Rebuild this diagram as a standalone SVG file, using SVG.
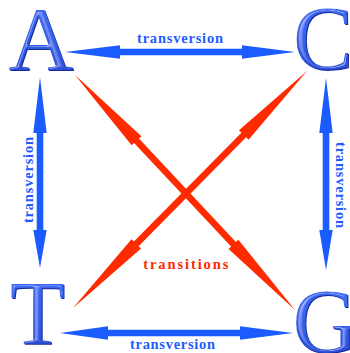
<svg xmlns="http://www.w3.org/2000/svg" width="350" height="353" viewBox="0 0 350 353">
  <style>
    .blue { fill: #1a5cff; }
    .red { fill: #ff2a00; }
    .lbl { font-family: "Liberation Serif", "Times New Roman", serif; font-weight: bold; font-size: 14.5px; }
    .lblb { fill: #1f5cff; }
    .lblr { fill: #ff2a00; }
    .base { font-family: "Liberation Serif", "Times New Roman", serif; font-size: 90px; text-anchor: middle; }
    .shadow { fill: #16289a; }
    .face { fill: url(#letterGrad); filter: url(#bevel); }
  </style>
  <defs>
    <linearGradient id="letterGrad" x1="0" y1="0" x2="0" y2="1">
      <stop offset="0" stop-color="#4070f6"/>
      <stop offset="0.5" stop-color="#325fe6"/>
      <stop offset="1" stop-color="#2447cc"/>
    </linearGradient>
    <filter id="bevel" x="-10%" y="-10%" width="120%" height="120%">
      <feGaussianBlur in="SourceAlpha" stdDeviation="1.4" result="blur"/>
      <feSpecularLighting in="blur" surfaceScale="3" specularConstant="0.55" specularExponent="16" lighting-color="#ffffff" result="spec">
        <feDistantLight azimuth="225" elevation="50"/>
      </feSpecularLighting>
      <feComposite in="spec" in2="SourceAlpha" operator="in" result="specIn"/>
      <feComposite in="SourceGraphic" in2="specIn" operator="arithmetic" k1="0" k2="1" k3="0.6" k4="0"/>
    </filter>
  </defs>

  <g id="connectors">
    <!-- transversions (blue) -->
    <polygon class="blue" points="65,52 120,45.3 120,48.7 242,48.7 242,45.3 295,52 242,58.7 242,55.3 120,55.3 120,58.7"/>
    <polygon class="blue" points="60,333 108,326.3 108,329.7 240,329.7 240,326.3 293,333 240,339.7 240,336.3 108,336.3 108,339.7"/>
    <polygon class="blue" points="40,77 33.3,133 36.7,133 36.7,230 33.3,230 40,268 46.7,230 43.3,230 43.3,133 46.7,133"/>
    <polygon class="blue" points="326,78 319.3,133 322.7,133 322.7,230 319.3,230 326,270 332.7,230 329.3,230 329.3,133 332.7,133"/>
    <!-- transitions (red) -->
    <path class="red" transform="translate(75,75) rotate(46.89)" d="M0,0 L90,-6.7 L90,-3.3 L231.9,-3.3 L231.9,-6.7 L321.9,0 L231.9,6.7 L231.9,3.3 L90,3.3 L90,6.7 Z"/>
    <path class="red" transform="translate(307,71) rotate(134.64)" d="M0,0 L90,-6.7 L90,-3.3 L243,-3.3 L243,-6.7 L333,0 L243,6.7 L243,3.3 L90,3.3 L90,6.7 Z"/>
    <!-- labels -->
    <text class="lbl lblb" x="137" y="42.7" textLength="86" lengthAdjust="spacing">transversion</text>
    <text class="lbl lblb" x="130" y="349" textLength="85" lengthAdjust="spacing">transversion</text>
    <text class="lbl lblb" transform="translate(33.3,223) rotate(-90)" x="0" y="0" textLength="86" lengthAdjust="spacing">transversion</text>
    <text class="lbl lblb" transform="translate(335.5,142) rotate(90)" x="0" y="0" textLength="86" lengthAdjust="spacing">transversion</text>
    <text class="lbl lblr" x="143.3" y="269" font-size="15.5" textLength="85" lengthAdjust="spacing">transitions</text>
  </g>

  <g id="node-A">
    <text class="base shadow" x="42" y="71">A</text>
    <text class="base face" x="41" y="70">A</text>
  </g>
  <g id="node-C">
    <text class="base shadow" x="324" y="69.5">C</text>
    <text class="base face" x="323" y="68.5">C</text>
  </g>
  <g id="node-T">
    <text class="base shadow" x="38.5" y="345">T</text>
    <text class="base face" x="37.5" y="344">T</text>
  </g>
  <g id="node-G">
    <text class="base shadow" x="326" y="353">G</text>
    <text class="base face" x="325" y="352">G</text>
  </g>
</svg>
